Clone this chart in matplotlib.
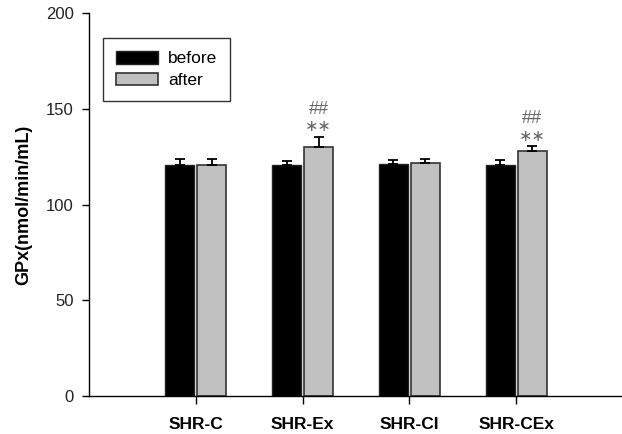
import numpy as np
import matplotlib.pyplot as plt

plt.rcParams['font.family'] = ['Liberation Sans', 'DejaVu Sans']

# GPx activity per group, before and after
groups = ['SHR-C', 'SHR-Ex', 'SHR-CI', 'SHR-CEx']
before = [120.6, 120.6, 121.5, 120.8]
before_err = [3.4, 2.1, 2.0, 2.6]
after = [120.6, 130.2, 122.0, 128.1]
after_err = [3.4, 5.4, 2.1, 2.6]
marks = ['', '\u2217\u2217', '', '\u2217\u2217']
marks_hash = ['', '##', '', '##']

x = np.arange(1, len(groups) + 1)
w = 0.27
off = 0.15

fig = plt.figure(figsize=(6.22, 4.34), dpi=100)
ax = fig.add_axes([0.1431, 0.0876, 0.855, 0.8817])

ekw = dict(ecolor='black', elinewidth=1.3, capsize=3.6, capthick=1.3)
ax.bar(x - off, before, w, color='black', edgecolor='#222222', linewidth=1,
       yerr=[np.zeros(4), before_err], error_kw=ekw, label='before', zorder=2)
ax.bar(x + off, after, w, color='#c0c0c0', edgecolor='#333333', linewidth=1.2,
       yerr=[np.zeros(4), after_err], error_kw=ekw, label='after', zorder=2)

# significance marks above the "after" bars
for xi, v, e, s, h in zip(x, after, after_err, marks, marks_hash):
    if s:
        ax.text(xi + off, v + e + 5.0, s, ha='center', va='center', fontsize=11.5,
                color='#666666', family='DejaVu Sans')
        ax.text(xi + off, v + e + 14.3, h, ha='center', va='center', fontsize=13,
                color='#666666', family=['Liberation Sans Narrow', 'Liberation Sans'])

ax.set_xlim(0, 4.98)
ax.set_ylim(0, 200)
ax.set_yticks([0, 50, 100, 150, 200])
ax.set_xticks(x)
ax.set_xticklabels(groups, fontweight='bold', fontsize=12.5)
ax.tick_params(axis='x', length=6, width=1, pad=9)
ax.tick_params(axis='y', length=5, width=1, labelsize=12, pad=6, labelcolor='#222222')
ax.set_ylabel('GPx(nmol/min/mL)', fontweight='bold', fontsize=13, labelpad=10)

ax.spines['top'].set_visible(False)
ax.spines['right'].set_visible(False)
ax.spines['left'].set_linewidth(1)
ax.spines['bottom'].set_linewidth(1)

leg = ax.legend(loc='upper left', bbox_to_anchor=(0.0263, 0.9355), fontsize=12.5,
                frameon=True, fancybox=False, edgecolor='black', handlelength=2.4,
                handleheight=0.75, borderpad=0.75, labelspacing=0.35, handletextpad=0.6,
                borderaxespad=0)
leg.get_frame().set_linewidth(1)

fig.savefig('out.png', dpi=100)
